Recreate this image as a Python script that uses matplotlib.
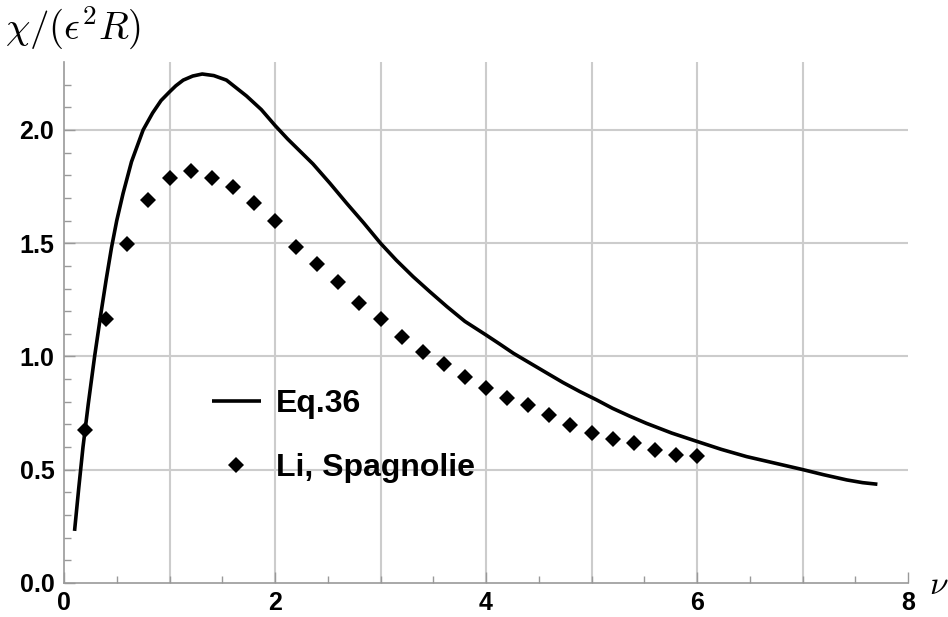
import numpy as np
import matplotlib.pyplot as plt
from matplotlib.ticker import FixedLocator

# Eq.36 curve
nu_curve = [0.10, 0.14, 0.18, 0.23, 0.29, 0.35, 0.40, 0.45, 0.50, 0.56,
            0.64, 0.75, 0.84, 0.92, 1.00, 1.06, 1.13, 1.22, 1.31, 1.42,
            1.54, 1.73, 1.87, 2.00, 2.12, 2.24, 2.36, 2.52, 2.68, 2.84,
            3.00, 3.15, 3.31, 3.47, 3.63, 3.80, 4.00, 4.13, 4.26, 4.42,
            4.58, 4.73, 4.89, 5.05, 5.20, 5.36, 5.52, 5.76, 6.00, 6.23,
            6.47, 6.73, 6.99, 7.20, 7.42, 7.57, 7.71]
chi_curve = [0.23, 0.42, 0.60, 0.79, 1.00, 1.19, 1.34, 1.48, 1.60, 1.72,
             1.86, 2.00, 2.075, 2.13, 2.168, 2.195, 2.22, 2.238, 2.247, 2.24,
             2.22, 2.15, 2.09, 2.02, 1.96, 1.905, 1.85, 1.765, 1.676, 1.59,
             1.50, 1.425, 1.352, 1.285, 1.22, 1.155, 1.095, 1.055, 1.014, 0.97,
             0.926, 0.885, 0.845, 0.808, 0.771, 0.737, 0.705, 0.662, 0.625, 0.59,
             0.558, 0.53, 0.502, 0.478, 0.455, 0.443, 0.436]

# Li, Spagnolie points
nu_pts = [0.2, 0.4, 0.6, 0.8, 1.0, 1.2, 1.4, 1.6, 1.8, 2.0,
          2.2, 2.4, 2.6, 2.8, 3.0, 3.2, 3.4, 3.6, 3.8, 4.0,
          4.2, 4.4, 4.6, 4.8, 5.0, 5.2, 5.4, 5.6, 5.8, 6.0]
chi_pts = [0.675, 1.164, 1.495, 1.69, 1.79, 1.82, 1.79, 1.747, 1.676, 1.598,
           1.485, 1.408, 1.33, 1.237, 1.164, 1.087, 1.021, 0.965, 0.911, 0.86,
           0.818, 0.786, 0.742, 0.698, 0.66, 0.636, 0.62, 0.587, 0.565, 0.561]

x_ticks = [0, 2, 4, 6, 8]
y_ticks = [0.0, 0.5, 1.0, 1.5, 2.0]
x_grid = [1, 2, 3, 4, 5, 6, 7]
y_grid = [0.5, 1.0, 1.5, 2.0]

plt.rcParams['mathtext.fontset'] = 'cm'

fig = plt.figure(figsize=(9.48, 6.17), dpi=100)
W, H = 948.0, 617.0
ax = fig.add_axes([64 / W, (H - 583) / H, (908 - 64) / W, (583 - 62) / H])

for g in x_grid:
    ax.axvline(g, color='#cccccc', lw=1.5, zorder=0)
for g in y_grid:
    ax.axhline(g, color='#cccccc', lw=1.5, zorder=0)

ax.plot(nu_curve, chi_curve, color='black', lw=2.6, label='Eq.36',
        solid_joinstyle='round', solid_capstyle='butt', zorder=3)
ax.plot(nu_pts, chi_pts, linestyle='none', marker='D', ms=8.5, mew=0,
        color='black', label='Li, Spagnolie', zorder=4)

ax.set_xlim(0, 8)
ax.set_ylim(0, 2.3)
for s in ['top', 'right']:
    ax.spines[s].set_visible(False)
for s in ['left', 'bottom']:
    ax.spines[s].set_color('#999999')
    ax.spines[s].set_linewidth(1.2)

ax.set_xticks(x_ticks)
ax.set_yticks(y_ticks)
ax.set_xticklabels([str(t) for t in x_ticks])
ax.set_yticklabels(['%.1f' % t for t in y_ticks])
ax.xaxis.set_minor_locator(FixedLocator(np.arange(0.5, 8, 0.5)))
ax.yaxis.set_minor_locator(FixedLocator(np.arange(0.1, 2.3, 0.1)))
ax.tick_params(which='both', direction='in', color='#999999', width=1.0)
ax.tick_params(which='major', length=8)
ax.tick_params(which='minor', length=5)
ax.tick_params(axis='x', which='major', pad=6)
ax.tick_params(axis='y', which='major', pad=7)
for lab in ax.get_xticklabels() + ax.get_yticklabels():
    lab.set_fontfamily('Liberation Sans')
    lab.set_fontweight('bold')
    lab.set_fontsize(18)

leg = ax.legend(loc='upper left', bbox_to_anchor=(0.175, 0.372), frameon=False,
                prop={'family': 'Liberation Sans', 'weight': 'bold', 'size': 23},
                handlelength=1.55, handletextpad=0.45, labelspacing=1.05,
                borderpad=0, borderaxespad=0)

fig.text(5 / W, 1 - 28 / H, r'$\chi/(\epsilon^2 R)$', fontsize=28,
         ha='left', va='center')
fig.text(929 / W, 1 - 584 / H, r'$\nu$', fontsize=24, ha='left', va='center')

fig.savefig('out.png', dpi=100)
